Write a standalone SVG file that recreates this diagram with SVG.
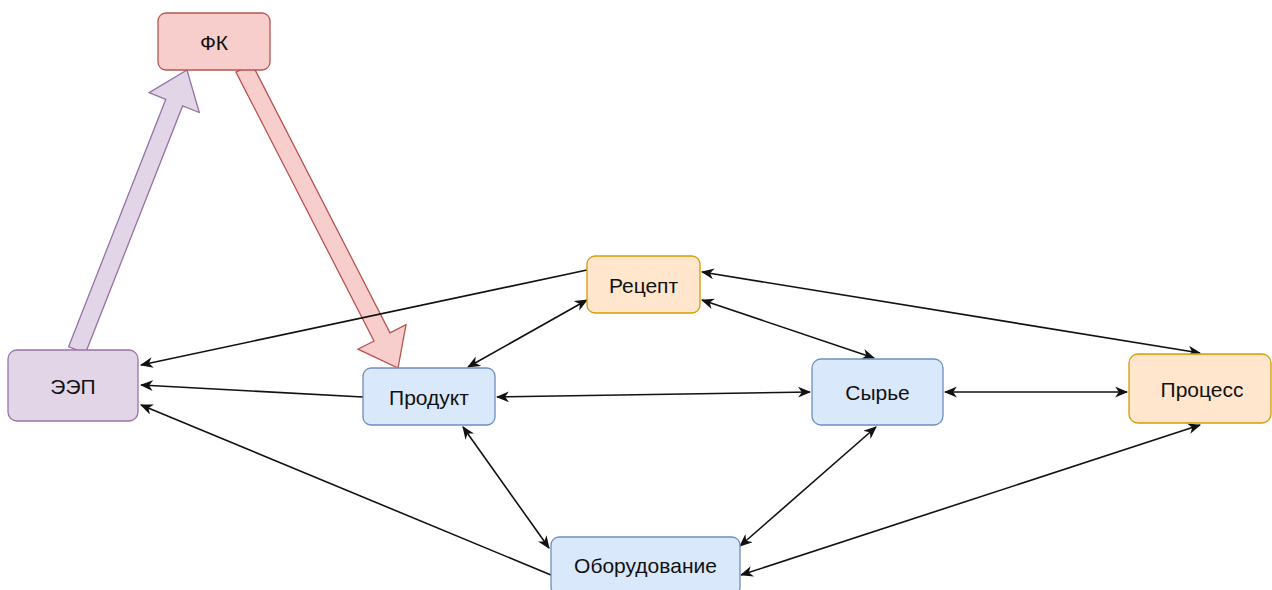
<svg xmlns="http://www.w3.org/2000/svg" width="1272" height="590" viewBox="0 0 1272 590">
<style>
.n rect{stroke-width:1.3}
.blue rect{fill:#dae8fc;stroke:#6c8ebf}
.orange rect{fill:#ffe6cc;stroke:#d79b00}
.red rect{fill:#f8cecc;stroke:#b85450}
.purple rect{fill:#e1d5e7;stroke:#9673a6}
text{font-family:"Liberation Sans",Arial,sans-serif;font-size:21px;fill:#111;text-anchor:middle;dominant-baseline:central}
.c line{stroke:#111;stroke-width:1.6;fill:none}
.big{stroke-width:1.3;stroke-linejoin:miter}
</style>
<defs>
<marker id="ah" viewBox="0 0 12 10" refX="11" refY="5" markerWidth="13" markerHeight="11" markerUnits="userSpaceOnUse" orient="auto-start-reverse">
<path d="M0,0 L12,5 L0,10 L3.5,5 z" fill="#111"/>
</marker>
</defs>
<g id="flex-arrows">
<polygon class="big" fill="#e1d5e7" stroke="#9673a6" points="68.6,346.7 165.8,99.3 149.1,92.7 187,70 199.3,112.5 182.6,105.9 85.4,353.3"/>
<polygon class="big" fill="#f8cecc" stroke="#b85450" points="236,72.1 374,341 358,349.2 398,368 406,324.6 390,332.8 252,63.9"/>
</g>
<g class="c" id="connectors">
<line x1="587" y1="270" x2="141" y2="365" marker-end="url(#ah)"/>
<line x1="363" y1="397" x2="141" y2="385" marker-end="url(#ah)"/>
<line x1="551" y1="575" x2="141" y2="405" marker-end="url(#ah)"/>
<line x1="587" y1="300" x2="468" y2="367" marker-start="url(#ah)" marker-end="url(#ah)"/>
<line x1="702" y1="272" x2="1200" y2="353" marker-start="url(#ah)" marker-end="url(#ah)"/>
<line x1="702" y1="300" x2="874" y2="358" marker-start="url(#ah)" marker-end="url(#ah)"/>
<line x1="497" y1="397" x2="810" y2="392" marker-start="url(#ah)" marker-end="url(#ah)"/>
<line x1="945" y1="392" x2="1127" y2="392" marker-start="url(#ah)" marker-end="url(#ah)"/>
<line x1="463" y1="427" x2="549" y2="548" marker-start="url(#ah)" marker-end="url(#ah)"/>
<line x1="876" y1="427" x2="740" y2="546" marker-start="url(#ah)" marker-end="url(#ah)"/>
<line x1="1200" y1="425" x2="741" y2="575" marker-start="url(#ah)" marker-end="url(#ah)"/>
</g>
<g id="fk" class="n red"><rect x="158" y="13" width="112" height="57" rx="8"/><text x="214" y="42">ФК</text></g>
<g id="eep" class="n purple"><rect x="8" y="350" width="130" height="71" rx="9"/><text x="73" y="386">ЭЭП</text></g>
<g id="product" class="n blue"><rect x="363" y="368" width="132" height="57" rx="8"/><text x="429" y="397">Продукт</text></g>
<g id="recipe" class="n orange"><rect x="587" y="256" width="113" height="57" rx="8"/><text x="643.5" y="285">Рецепт</text></g>
<g id="raw" class="n blue"><rect x="812" y="359" width="131" height="66" rx="9"/><text x="877.5" y="392">Сырье</text></g>
<g id="process" class="n orange"><rect x="1129" y="354" width="142" height="69" rx="9"/><text x="1202" y="389">Процесс</text></g>
<g id="equipment" class="n blue"><rect x="551" y="537" width="189" height="58" rx="8"/><text x="645.5" y="565">Оборудование</text></g>
</svg>
